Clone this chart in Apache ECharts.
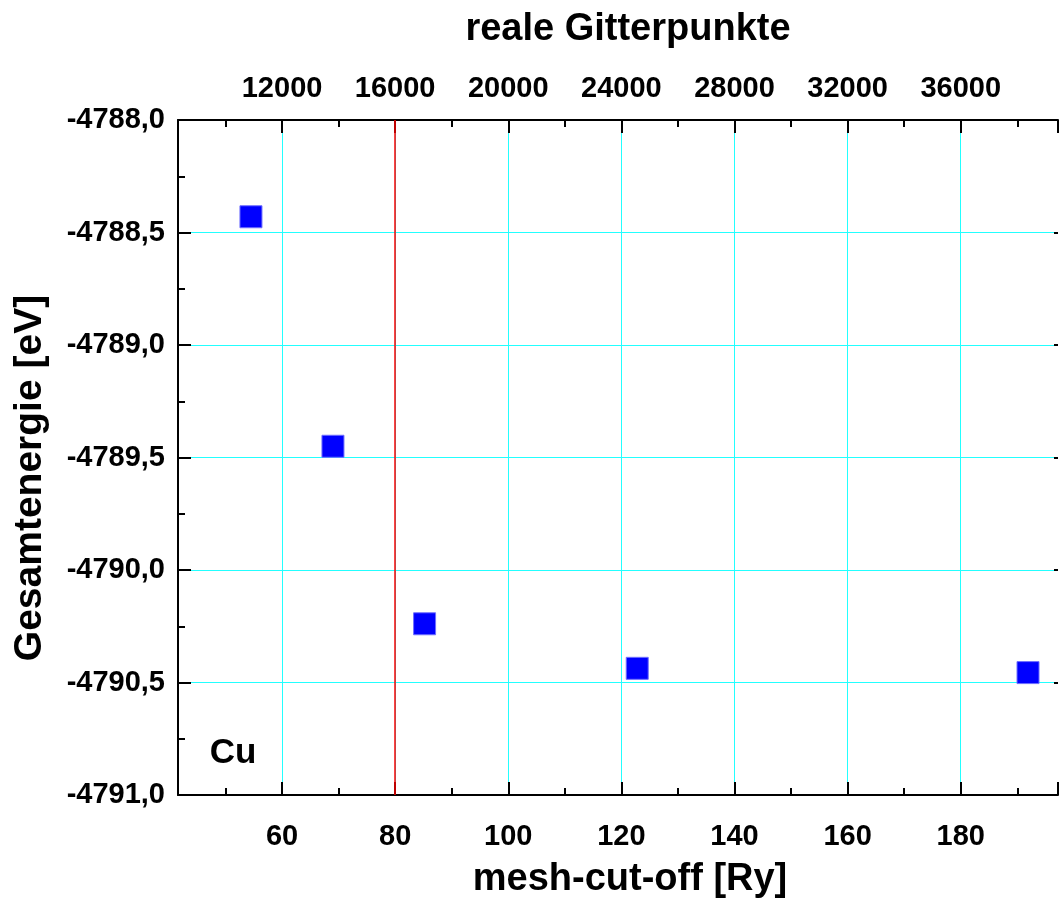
<!DOCTYPE html>
<html>
<head>
<meta charset="utf-8">
<script src="https://cdn.jsdelivr.net/npm/echarts@6/dist/echarts.min.js"></script>
<style>html,body{margin:0;padding:0;background:#fff}#c{width:1059px;height:899px}</style>
</head>
<body>
<div id="c"></div>
<script>
// data
const cutoff = [54.5, 69.0, 85.2, 122.8, 191.9];          // mesh-cut-off [Ry]
const energy = [-4788.430, -4789.450, -4790.239, -4790.437, -4790.456]; // Gesamtenergie [eV]
const xMin = 41.6, xMax = 197.2, xStep = 20;
const yMin = -4791.0, yMax = -4788.0, yStep = 0.5;
const gridPerRy = 200;        // reale Gitterpunkte = 200 * cut-off
const markedCutoff = 80;      // red vertical marker
const xTitle = 'mesh-cut-off [Ry]';
const topTitle = 'reale Gitterpunkte';
const yTitle = 'Gesamtenergie [eV]';
const label = 'Cu';

const FONT = '"Liberation Sans", Arial, sans-serif';
const chart = echarts.init(document.getElementById('c'));
const tickLabel = {fontFamily: FONT, fontWeight: 'bold', fontSize: 29, color: '#000'};
const axisLine = {show: true, onZero: false, lineStyle: {color: '#000', width: 2}};
const axisTick = {show: true, inside: true, length: 13, lineStyle: {color: '#000', width: 2}};
const minorTick = {show: true, splitNumber: 2, length: 7, lineStyle: {color: '#000', width: 2}};
const isMajor = v => Math.abs(v / xStep - Math.round(v / xStep)) < 1e-6;

chart.setOption({
  animation: false,
  backgroundColor: '#fff',
  grid: {left: 178, top: 120, right: 1, bottom: 104, containLabel: false},
  xAxis: [{
    type: 'value', position: 'bottom', min: xMin, max: xMax,
    splitNumber: 8, minInterval: xStep, maxInterval: xStep,
    axisLine, axisTick, minorTick,
    axisLabel: Object.assign({margin: 27, showMinLabel: false, showMaxLabel: false,
      formatter: v => (isMajor(v) ? String(Math.round(v)) : '')}, tickLabel),
    splitLine: {show: true, showMinLine: false, showMaxLine: false, lineStyle: {color: '#22ffff', width: 1}}
  }, {
    type: 'value', position: 'top', min: xMin, max: xMax,
    splitNumber: 8, minInterval: xStep, maxInterval: xStep,
    axisLine, axisTick, minorTick,
    axisLabel: Object.assign({margin: 17, showMinLabel: false, showMaxLabel: false,
      formatter: v => (isMajor(v) ? String(Math.round(v) * gridPerRy) : '')}, tickLabel),
    splitLine: {show: false}
  }],
  yAxis: [{
    type: 'value', position: 'left', min: yMin, max: yMax, interval: yStep,
    axisLine, axisTick, minorTick,
    axisLabel: Object.assign({margin: 13, formatter: v => v.toFixed(1).replace('.', ',')}, tickLabel),
    splitLine: {show: true, lineStyle: {color: '#22ffff', width: 1}}
  }, {
    type: 'value', position: 'right', min: yMin, max: yMax, interval: yStep,
    axisLine: {show: false},
    axisTick: {show: true, inside: true, length: 4, lineStyle: {color: '#000', width: 2}},
    minorTick: {show: false},
    axisLabel: {show: false},
    splitLine: {show: false}
  }],
  series: [{
    type: 'scatter',
    xAxisIndex: 0, yAxisIndex: 0,
    data: cutoff.map((x, i) => [x, energy[i]]),
    symbol: 'rect', symbolSize: 22,
    itemStyle: {color: '#0000ff', borderColor: '#6f6fff', borderWidth: 1, opacity: 1},
    z: 5,
    markLine: {
      silent: true, symbol: ['none', 'none'], label: {show: false}, z: 4,
      lineStyle: {color: '#ff0000', width: 1.5, type: 'solid', opacity: 1},
      emphasis: {disabled: true},
      data: [{xAxis: markedCutoff}]
    }
  }],
  graphic: [
    {type: 'text', x: 628, y: 30, style: {text: topTitle, font: 'bold 38px ' + FONT, fill: '#000', align: 'center', verticalAlign: 'middle'}},
    {type: 'text', x: 630, y: 880, style: {text: xTitle, font: 'bold 38px ' + FONT, fill: '#000', align: 'center', verticalAlign: 'middle'}},
    {type: 'text', x: 30, y: 478, rotation: Math.PI / 2, style: {text: yTitle, font: 'bold 39px ' + FONT, fill: '#000', align: 'center', verticalAlign: 'middle'}},
    {type: 'text', x: 233, y: 753, style: {text: label, font: 'bold 35px ' + FONT, fill: '#000', align: 'center', verticalAlign: 'middle'}}
  ]
});
</script>
</body>
</html>
